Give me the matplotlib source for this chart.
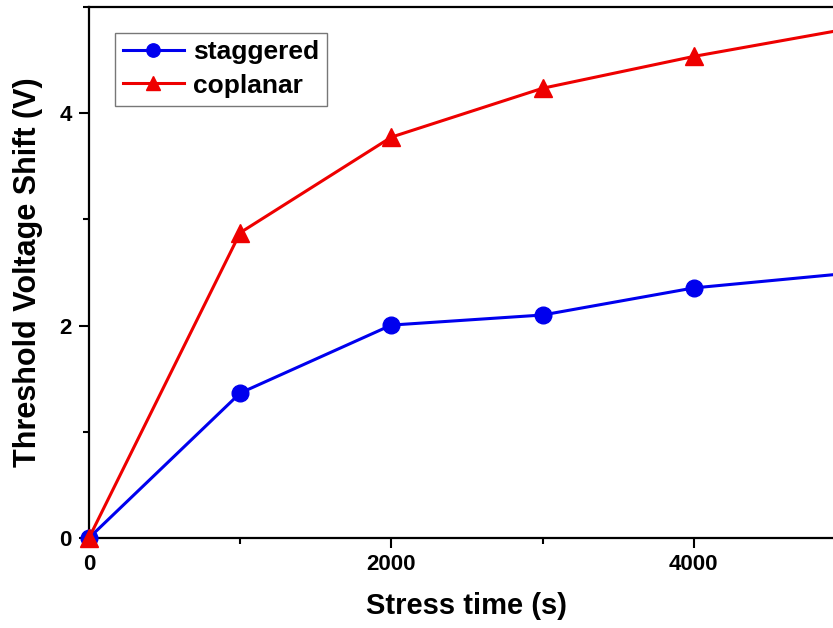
import matplotlib
matplotlib.use("Agg")
import matplotlib.pyplot as plt
from matplotlib.ticker import MultipleLocator

# Threshold voltage shift under bias stress for two TFT structures
stress_time = [0, 1000, 2000, 3000, 4000, 5000]
staggered = [0.0, 1.365, 2.005, 2.10, 2.355, 2.49]
coplanar = [0.0, 2.875, 3.775, 4.235, 4.535, 4.79]

x_ticks = [0, 2000, 4000]
y_ticks = [0, 2, 4]

fig = plt.figure(figsize=(8.33, 6.28), dpi=100)
ax = fig.add_axes([0.1068, 0.1433, 0.9076, 0.8455])

ax.plot(stress_time, staggered, color="#0000ee", lw=2.2, marker="o",
        markersize=12, label="staggered", clip_on=False, zorder=3)
ax.plot(stress_time, coplanar, color="#ee0000", lw=2.2, marker="^",
        markersize=13, label="coplanar", clip_on=False, zorder=3)

ax.set_xlim(0, 5000)
ax.set_ylim(0, 5)
ax.set_xticks(x_ticks)
ax.set_yticks(y_ticks)
ax.xaxis.set_minor_locator(MultipleLocator(1000))
ax.yaxis.set_minor_locator(MultipleLocator(1))

for s in ax.spines.values():
    s.set_linewidth(1.6)
ax.tick_params(which="major", direction="out", length=7.5, width=1.5)
ax.tick_params(axis="x", which="major", pad=4)
ax.tick_params(axis="y", which="major", pad=5)
ax.tick_params(which="minor", direction="out", length=4.5, width=1.5)

for lab in ax.get_xticklabels() + ax.get_yticklabels():
    lab.set_fontfamily("Liberation Sans")
    lab.set_fontweight("bold")
    lab.set_fontsize(16)

ax.set_xlabel("Stress time (s)", family="Liberation Sans", weight="bold",
              fontsize=21, labelpad=12)
ax.set_ylabel("Threshold Voltage Shift (V)", family="Liberation Sans",
              weight="bold", fontsize=22, labelpad=12)

leg = ax.legend(loc="upper left", bbox_to_anchor=(0.0343, 0.952),
                prop=dict(family="Liberation Sans", weight="bold", size=19),
                fancybox=False, edgecolor="#555555", handlelength=2.3,
                handletextpad=0.35, borderpad=0.3, labelspacing=0.35,
                borderaxespad=0.0, markerscale=0.8)
leg.get_frame().set_linewidth(1.0)

fig.savefig("out.png", dpi=100)
